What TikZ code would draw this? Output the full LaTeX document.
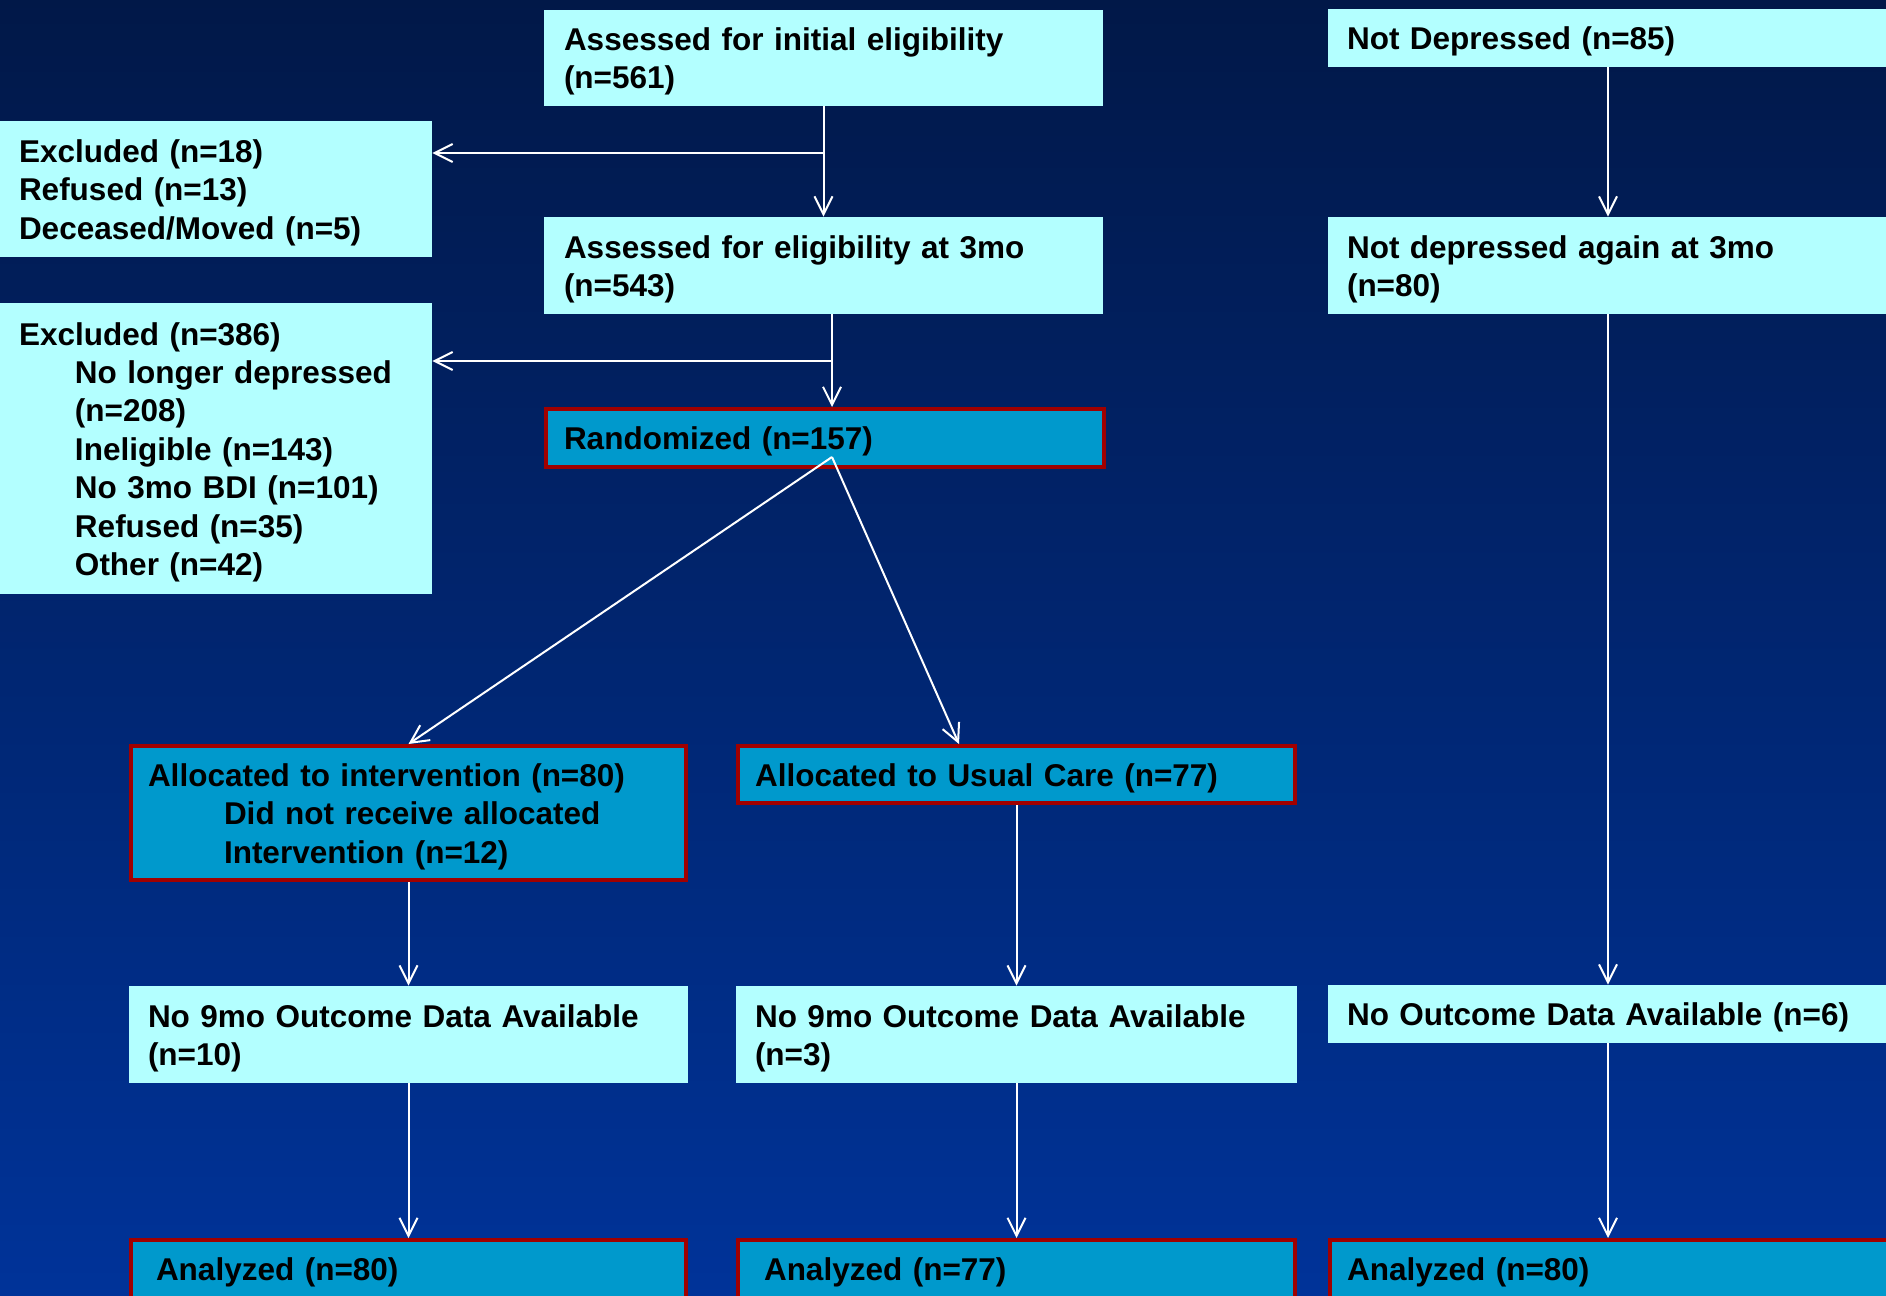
\documentclass[tikz,border=0pt]{standalone}
\usepackage{fontspec}
\setmainfont{Liberation Sans}
\usetikzlibrary{arrows.meta}
\definecolor{navyTop}{RGB}{1,24,72}
\definecolor{navyBottom}{RGB}{0,51,153}
\definecolor{paleCyan}{RGB}{179,255,255}
\definecolor{boxBlue}{RGB}{0,153,204}
\definecolor{boxRed}{RGB}{160,0,0}
\begin{document}
\begin{tikzpicture}[x=0.5pt,y=-0.5pt,
  pale/.style={fill=paleCyan, inner xsep=9.5pt, inner ysep=0pt, align=left,
    font=\fontsize{15.75}{19.2}\selectfont\bfseries, text=black,
    execute at begin node={\rule{0pt}{15pt}}},
  marked/.style={pale, fill=boxBlue, draw=boxRed, line width=2pt},
  flow/.style={draw=white, line width=1pt, -{Straight Barb[length=9pt,width=9pt]}}
]
\clip (0,0) rectangle (1886,1296);
\shade[top color=navyTop, bottom color=navyBottom] (0,0) rectangle (1886,1296);

  \newcommand{\indentA}{\hspace*{28pt}}
  \newcommand{\indentB}{\hspace*{38pt}}

\node[pale, inner xsep=10pt, text width=259.5pt, minimum height=48pt] (initA) at (823.5,58)
  {Assessed for initial eligibility\\(n=561)};
\node[pale, text width=261pt, minimum height=29pt] (notDep) at (1608,38)
  {Not Depressed (n=85)};
\node[pale, text width=197pt, minimum height=68pt] (excl1) at (216,189)
  {Excluded (n=18)\\Refused (n=13)\\Deceased/Moved (n=5)};
\node[pale, inner xsep=10pt, text width=259.5pt, minimum height=48.5pt] (eligB) at (823.5,265.5)
  {Assessed for eligibility at 3mo\\(n=543)};
\node[pale, text width=261pt, minimum height=48.5pt] (notDep3) at (1608,265.5)
  {Not depressed again at 3mo\\(n=80)};
\node[pale, text width=197pt, minimum height=145.5pt] (excl2) at (216,448.5)
  {Excluded (n=386)\\\indentA No longer depressed\\\indentA (n=208)\\\indentA Ineligible (n=143)\\
   \indentA No 3mo BDI (n=101)\\\indentA Refused (n=35)\\\indentA Other (n=42)};
\node[marked, inner xsep=9pt, text width=261pt, minimum height=29pt] (rand) at (825,438)
  {Randomized (n=157)};
\node[marked, inner xsep=8.5pt, text width=260.5pt, minimum height=67pt] (allocInt) at (408.5,813)
  {Allocated to intervention (n=80)\\\indentB Did not receive allocated\\\indentB Intervention (n=12)};
\node[marked, inner xsep=8.5pt, text width=261.5pt, minimum height=28.5pt] (allocUC) at (1016.5,774.5)
  {Allocated to Usual Care (n=77)};
\node[pale, text width=260.5pt, minimum height=48.5pt] (no9a) at (408.5,1034.5)
  {No 9mo Outcome Data Available\\(n=10)};
\node[pale, text width=261.5pt, minimum height=48.5pt] (no9b) at (1016.5,1034.5)
  {No 9mo Outcome Data Available\\(n=3)};
\node[pale, text width=261pt, minimum height=29pt] (noOut) at (1608,1014)
  {No Outcome Data Available (n=6)};
\node[marked, inner xsep=12.5pt, text width=252.5pt, minimum height=29pt] (ana1) at (408.5,1269)
  {Analyzed (n=80)};
\node[marked, inner xsep=13pt, text width=252.5pt, minimum height=29pt] (ana2) at (1016.5,1269)
  {Analyzed (n=77)};
\node[marked, inner xsep=8.5pt, text width=263pt, minimum height=29pt] (ana3) at (1610,1269)
  {Analyzed (n=80)};

\coordinate (split1) at (824,153);
\coordinate (split2) at (832,361);
\coordinate (fork) at (832,457);

\draw[flow] (initA.south) -- (eligB.north);
\draw[flow] (split1) -- (split1 -| excl1.east);
\draw[flow] (eligB.south -| split2) -- (rand.north -| split2);
\draw[flow] (split2) -- (split2 -| excl2.east);
\draw[flow] (fork) -- (allocInt.north);
\draw[flow] (fork) -- ([xshift=-28.75pt]allocUC.north);
\draw[flow] (allocInt.south) -- (no9a.north);
\draw[flow] (allocUC.south) -- (no9b.north);
\draw[flow] (no9a.south) -- (ana1.north);
\draw[flow] (no9b.south) -- (ana2.north);
\draw[flow] (notDep.south) -- (notDep3.north);
\draw[flow] (notDep3.south) -- (noOut.north);
\draw[flow] (noOut.south) -- (noOut.south |- ana3.north);
\end{tikzpicture}
\end{document}
